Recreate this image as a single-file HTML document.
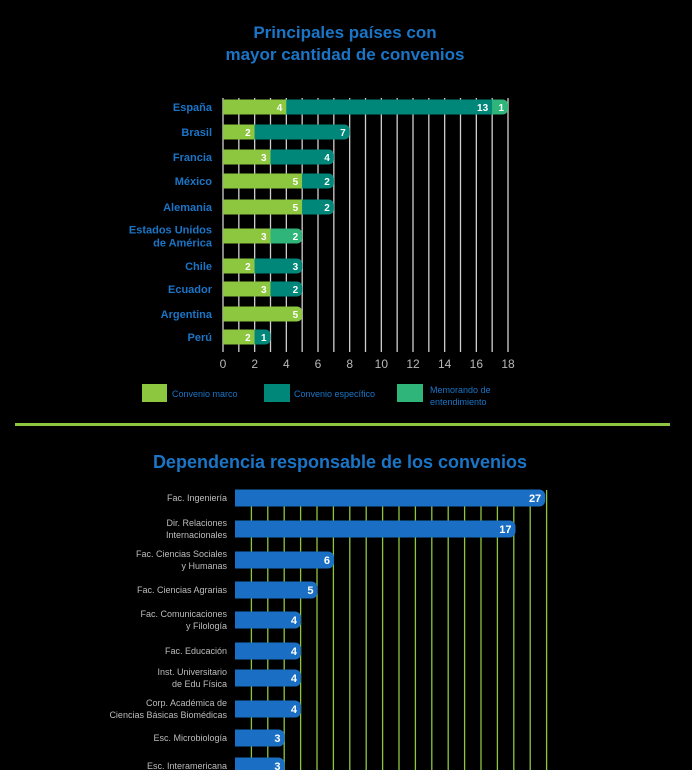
<!DOCTYPE html>
<html><head><meta charset="utf-8">
<style>
html,body{margin:0;padding:0;background:#000;}
svg{display:block;font-family:"Liberation Sans",sans-serif;}
</style></head>
<body>
<svg id="c" width="692" height="770" viewBox="0 0 692 770" xmlns="http://www.w3.org/2000/svg">
<rect width="692" height="770" fill="#000"/>
<text x="345" y="38" text-anchor="middle" font-size="17" font-weight="bold" fill="#1b75c7">Principales países con</text>
<text x="345" y="60" text-anchor="middle" font-size="17" font-weight="bold" fill="#1b75c7">mayor cantidad de convenios</text>
<g id="topChart"></g>
<g>
<rect x="142" y="384" width="25" height="18" fill="#8dc63f"/>
<text x="172" y="397" font-size="9" fill="#1b75c7">Convenio marco</text>
<rect x="264" y="384" width="26" height="18" fill="#00877a"/>
<text x="294" y="397" font-size="9" fill="#1b75c7">Convenio específico</text>
<rect x="397" y="384" width="26" height="18" fill="#2fb57a"/>
<text x="430" y="393" font-size="9" fill="#1b75c7">Memorando de</text>
<text x="430" y="405" font-size="9" fill="#1b75c7">entendimiento</text>
</g>
<rect x="15" y="423" width="655" height="3" fill="#8dc63f"/>
<text x="340" y="468" text-anchor="middle" font-size="18" font-weight="bold" fill="#1b75c7">Dependencia responsable de los convenios</text>
<g id="botChart"></g>
</svg>
<script>
const countries=[["España"],["Brasil"],["Francia"],["México"],["Alemania"],["Estados Unidos","de América"],["Chile"],["Ecuador"],["Argentina"],["Perú"]];
const marco=[4,2,3,5,5,3,2,3,5,2];
const especifico=[13,6,4,2,2,0,3,2,0,1];
const memorando=[1,0,0,0,0,2,0,0,0,0];
const especificoLabels=[13,7,4,2,2,0,3,2,0,1];
const xTicks=[0,2,4,6,8,10,12,14,16,18];
const deps=[["Fac. Ingeniería"],["Dir. Relaciones","Internacionales"],["Fac. Ciencias Sociales","y Humanas"],["Fac. Ciencias Agrarias"],["Fac. Comunicaciones","y Filología"],["Fac. Educación"],["Inst. Universitario","de Edu Física"],["Corp. Académica de","Ciencias Básicas Biomédicas"],["Esc. Microbiología"],["Esc. Interamericana"]];
const depValues=[27,17,6,5,4,4,4,4,3,3];
const NS="http://www.w3.org/2000/svg";
function mk(p,t,a){const e=document.createElementNS(NS,t);for(const k in a)e.setAttribute(k,a[k]);p.appendChild(e);return e;}
const topG=document.getElementById('topChart');
const tx=v=>223+v*(285/18);
const rowY=[107,132,157,181,207,236,266,289,314,337];
const bh=15;
for(let i=0;i<=18;i++){const l=mk(topG,'line',{x1:tx(i),x2:tx(i),y1:98,y2:352,stroke:'#d0d0d0','stroke-width':1.3});

}
xTicks.forEach(t=>{const e=mk(topG,'text',{x:tx(t),y:368,'text-anchor':'middle','font-size':12,fill:'#b8b8b8'});e.textContent=t;

});
countries.forEach((c,i)=>{
 const y=rowY[i];
 c.forEach((s,j)=>{const e=mk(topG,'text',{x:212,y:y+4+(c.length>1?(j-0.5)*13:0),'text-anchor':'end','font-size':11,'font-weight':'bold',fill:'#1b75c7'});e.textContent=s;
 
 });
 const segs=[[marco[i],'#8dc63f',marco[i]],[especifico[i],'#00877a',especificoLabels[i]],[memorando[i],'#2fb57a',memorando[i]]];
 const total=marco[i]+especifico[i]+memorando[i];
 const lastCol=memorando[i]?'#2fb57a':(especifico[i]?'#00877a':'#8dc63f');
 const cap=mk(topG,'rect',{x:tx(0),y:y-bh/2,width:tx(total)-tx(0),height:bh,rx:5,fill:lastCol});
 
 
 let acc=0;
 segs.forEach((s,k)=>{if(!s[0])return;
  const isLast=acc+s[0]===total;
  const r=mk(topG,'rect',{x:tx(acc),y:y-bh/2,width:tx(acc+s[0])-tx(acc)-(isLast?5:0),height:bh,fill:s[1]});
  
  
  acc+=s[0];
  const t=mk(topG,'text',{x:tx(acc)-4,y:y+4,'text-anchor':'end','font-size':10,'font-weight':'bold',fill:'#fff'});t.textContent=s[2];
  
  
 });
});
const botG=document.getElementById('botChart');
const bx=v=>235+Math.min(v,18.8)*16.5;
const bY=[498,529,560,590,620,651,678,709,738,766];
const bb=17;
for(let i=1;i<=19;i++){const l=mk(botG,'line',{x1:235+i*16.4,x2:235+i*16.4,y1:490,y2:770,stroke:'#8dc63f','stroke-width':1.3});

}
deps.forEach((d,i)=>{
 const y=bY[i];
 d.forEach((s,j)=>{const e=mk(botG,'text',{x:227,y:y+3+(d.length>1?(j-0.5)*12:0),'text-anchor':'end','font-size':9,fill:'#bdbdbd'});e.textContent=s;
 
 });
 const r=mk(botG,'rect',{x:235,y:y-bb/2,width:bx(depValues[i])-235,height:bb,rx:6,fill:'#1a6fc4'});
 
 
 const r2=mk(botG,'rect',{x:235,y:y-bb/2,width:10,height:bb,fill:'#1a6fc4'});
 
 
 const t=mk(botG,'text',{x:bx(depValues[i])-4,y:y+4,'text-anchor':'end','font-size':11,'font-weight':'bold',fill:'#fff'});t.textContent=depValues[i];
 
 
});
</script>
</body></html>
